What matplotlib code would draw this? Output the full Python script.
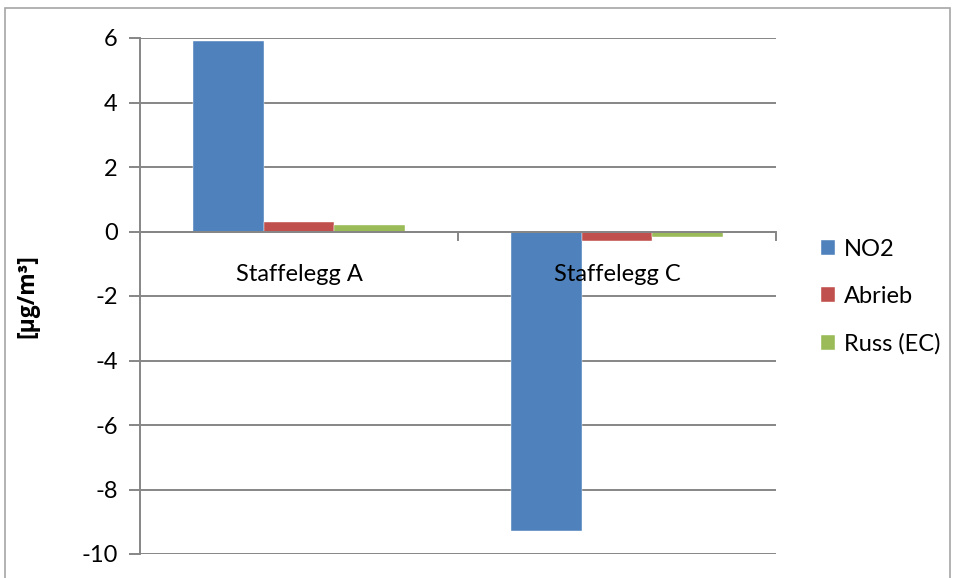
import numpy as np
import matplotlib.pyplot as plt
from matplotlib.patches import Rectangle

plt.rcParams['font.family'] = ['Lato', 'DejaVu Sans']

categories = ['Staffelegg A', 'Staffelegg C']
series = ['NO2', 'Abrieb', 'Russ (EC)']
no2 = [5.9, -9.3]
abrieb = [0.3, -0.28]
russ = [0.2, -0.18]
colors = ['#4F81BD', '#C0504D', '#9BBB59']
yticks = [6, 4, 2, 0, -2, -4, -6, -8, -10]

W, H = 954, 578
fs = 17
fig = plt.figure(figsize=(W / 100, H / 100), dpi=100)
ax = fig.add_axes([140 / W, 1 - 554 / H, (776 - 140) / W, (554 - 38) / H])

# outer chart frame
fig.patches.append(Rectangle((5 / W, -0.05), (950 - 5) / W, 1.05 - 8 / H,
                             transform=fig.transFigure, fill=False,
                             edgecolor='#a6a6a6', lw=1.2))

x = np.arange(len(categories))
bw = 0.223
for i, (name, vals) in enumerate(zip(series, [no2, abrieb, russ])):
    ax.bar(x + (i - 1) * bw, vals, width=bw, color=colors[i],
           edgecolor='white', linewidth=0.3, label=name, zorder=3)

ax.set_xlim(-0.5, 1.5)
ax.set_ylim(-10, 6)
ax.set_yticks(yticks)
ax.set_yticklabels([str(t) for t in yticks], fontsize=fs)
ax.grid(axis='y', color='#868686', lw=1.4, zorder=0)
ax.tick_params(axis='y', length=8, width=1.4, color='#868686', pad=8)
ax.set_xticks([])
for s in ['top', 'right', 'bottom']:
    ax.spines[s].set_visible(False)
ax.spines['left'].set_color('#868686')
ax.spines['left'].set_linewidth(1.4)

# category axis at zero
ax.axhline(0, color='#868686', lw=1.4, zorder=4)
for b in [-0.5, 0.5, 1.5]:
    ax.plot([b, b], [0, -0.25], color='#868686', lw=1.4, zorder=4, clip_on=False)
for i, c in enumerate(categories):
    ax.annotate(c, (x[i], 0), xytext=(0, -31), textcoords='offset points',
                ha='center', va='center', fontsize=fs, zorder=5)

ax.set_ylabel('[µg/m³]', fontsize=fs - 0.5, fontweight='bold', labelpad=30,
              family=['Open Sans', 'DejaVu Sans'])

ax.legend(loc='center left', bbox_to_anchor=(800 / W, 1 - 297 / H),
          bbox_transform=fig.transFigure, frameon=False, fontsize=fs,
          handlelength=0.6, handleheight=0.6, handletextpad=0.35,
          labelspacing=1.1)

fig.savefig('out.png', dpi=100)
